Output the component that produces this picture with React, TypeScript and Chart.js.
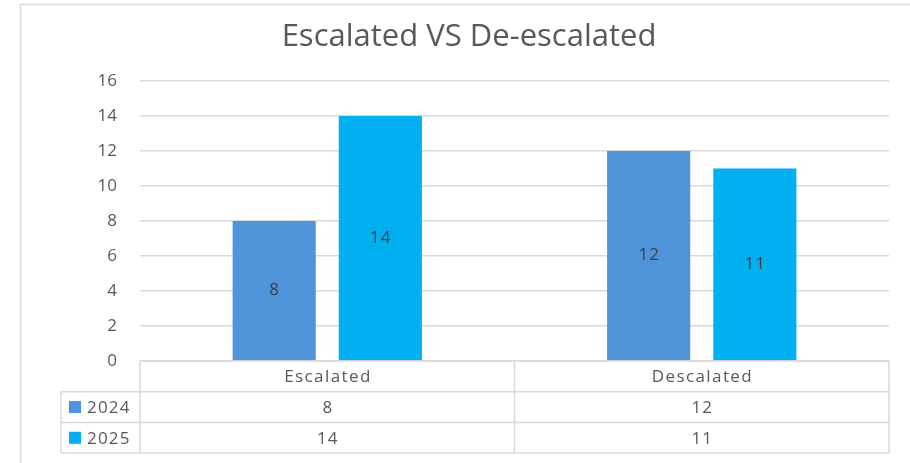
import { useEffect, useRef } from "react";
import { Chart, registerables } from "chart.js";

Chart.register(...registerables);

const title = "Escalated VS De-escalated";
const categories = ["Escalated", "Descalated"];
const seriesNames = ["2024", "2025"];
const values2024 = [8, 12];
const values2025 = [14, 11];
const yMin = 0;
const yMax = 16;
const yStep = 2;

const seriesValues = [values2024, values2025];
const seriesColors = ["#4F94D9", "#00B0F0"];

const FONT = "'Open Sans', 'Liberation Sans', sans-serif";
const TEXT = "#595959";
const LINE = "#d9d9d9";

function spacedText(ctx: any, text: string, x: number, y: number, spacing: number) {
  ctx.letterSpacing = `${spacing}px`;
  const align = ctx.textAlign;
  let dx = 0;
  if (align === "center") dx = spacing / 2;
  ctx.fillText(text, x + dx, y);
  ctx.letterSpacing = "0px";
}

const framePlugin = {
  id: "frame",
  beforeDraw(chart: any) {
    const ctx = chart.ctx;
    ctx.save();
    ctx.fillStyle = "#ffffff";
    ctx.fillRect(0, 0, chart.width, chart.height);
    ctx.strokeStyle = LINE;
    ctx.lineWidth = 1.5;
    ctx.beginPath();
    ctx.moveTo(20.5, chart.height);
    ctx.lineTo(20.5, 4.5);
    ctx.lineTo(chart.width, 4.5);
    ctx.stroke();
    ctx.fillStyle = TEXT;
    ctx.font = `31px ${FONT}`;
    ctx.textAlign = "center";
    ctx.textBaseline = "middle";
    ctx.fillText(title, 469, 37);
    ctx.restore();
  },
};

const valueLabelPlugin = {
  id: "valueLabels",
  afterDatasetsDraw(chart: any) {
    const ctx = chart.ctx;
    ctx.save();
    ctx.fillStyle = "#404040";
    ctx.font = `17px ${FONT}`;
    ctx.textAlign = "center";
    ctx.textBaseline = "middle";
    chart.data.datasets.forEach((ds: any, di: number) => {
      const meta = chart.getDatasetMeta(di);
      meta.data.forEach((bar: any, i: number) => {
        const y = (bar.y + bar.base) / 2;
        spacedText(ctx, String(ds.data[i]), bar.x, y, 1);
      });
    });
    ctx.restore();
  },
};

const tablePlugin = {
  id: "dataTable",
  afterDraw(chart: any) {
    const ctx = chart.ctx;
    const area = chart.chartArea;
    const xs = chart.scales.x;
    const n = categories.length;
    const w = (area.right - area.left) / n;
    const top = area.bottom;
    const rowH = 30.7;
    const legendLeft = 61;
    const rows = seriesNames.length;
    const bottom = top + rowH * (rows + 1);

    ctx.save();
    ctx.strokeStyle = LINE;
    ctx.lineWidth = 1.5;
    ctx.beginPath();
    ctx.moveTo(area.left, top);
    ctx.lineTo(area.right, top);
    for (let r = 1; r <= rows + 1; r++) {
      const y = top + rowH * r;
      ctx.moveTo(legendLeft, y);
      ctx.lineTo(area.right, y);
    }
    ctx.moveTo(legendLeft, top + rowH);
    ctx.lineTo(legendLeft, bottom);
    for (let i = 0; i <= n; i++) {
      const x = i < n ? xs.getPixelForValue(i) - w / 2 : xs.getPixelForValue(n - 1) + w / 2;
      ctx.moveTo(x, top);
      ctx.lineTo(x, bottom);
    }
    ctx.stroke();

    ctx.fillStyle = TEXT;
    ctx.font = `17px ${FONT}`;
    ctx.textBaseline = "middle";
    ctx.textAlign = "center";
    categories.forEach((c, i) => {
      const cx = xs.getPixelForValue(i);
      spacedText(ctx, c, cx, top + rowH / 2 + 1, 1.4);
      seriesValues.forEach((vals, r) => {
        spacedText(ctx, String(vals[i]), cx, top + rowH * (r + 1) + rowH / 2 + 1, 1.2);
      });
    });
    ctx.textAlign = "left";
    seriesNames.forEach((s, r) => {
      const cy = top + rowH * (r + 1) + rowH / 2;
      ctx.fillStyle = seriesColors[r];
      ctx.fillRect(69, cy - 6, 12, 12);
      ctx.fillStyle = TEXT;
      spacedText(ctx, s, 87, cy + 1, 1.2);
    });
    ctx.restore();
  },
};

export default function App() {
  const ref = useRef<HTMLCanvasElement | null>(null);
  useEffect(() => {
    if (!ref.current) return;
    const chart = new Chart(ref.current, {
      type: "bar",
      data: {
        labels: categories,
        datasets: seriesNames.map((name, i) => ({
          label: name,
          data: seriesValues[i],
          backgroundColor: seriesColors[i],
          borderWidth: 0,
          categoryPercentage: 0.567,
          barPercentage: 0.783,
        })),
      },
      options: {
        animation: false,
        responsive: false,
        maintainAspectRatio: false,
        layout: { padding: { left: 0, right: 21, top: 81, bottom: 0 } },
        plugins: {
          legend: { display: false },
          tooltip: { enabled: false },
          title: { display: false },
        },
        scales: {
          x: {
            grid: { display: false },
            border: { display: false },
            ticks: { display: false },
            afterFit(scale: any) {
              scale.height = 102;
            },
          },
          y: {
            min: yMin,
            max: yMax,
            ticks: {
              stepSize: yStep,
              color: TEXT,
              padding: 23,
              font: { family: FONT, size: 17 },
            },
            grid: { color: LINE, lineWidth: 1.5, drawTicks: false },
            border: { display: false },
            afterFit(scale: any) {
              scale.width = 140;
            },
          },
        },
      },
      plugins: [framePlugin, valueLabelPlugin, tablePlugin],
    });
    return () => chart.destroy();
  }, []);
  return (
    <div style={{ position: "fixed", left: 0, top: 0, width: 910, height: 463 }}>
      <canvas ref={ref} width={910} height={463} style={{ display: "block" }} />
    </div>
  );
}
